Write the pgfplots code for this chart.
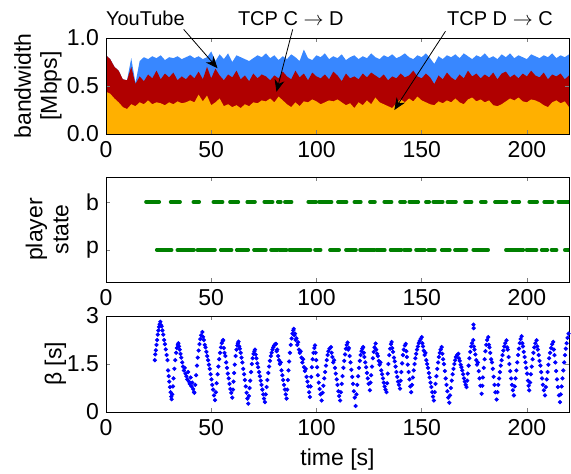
\documentclass[border=0pt]{standalone}
\usepackage{fontspec}
\setmainfont{Liberation Sans}
\usepackage{pgfplots}
\usepackage{pgfplotstable}
\pgfplotsset{compat=1.18}
\usetikzlibrary{arrows.meta}

\definecolor{ytblue}{RGB}{56,135,255}
\definecolor{cdred}{RGB}{176,0,0}
\definecolor{dcorange}{RGB}{255,176,0}
\definecolor{stgreen}{RGB}{0,128,0}

\pgfplotstableread{
t dc cd yt
0 0.44 0.82 0.82
2 0.42 0.78 0.78
4 0.37 0.70 0.70
6 0.33 0.66 0.66
8 0.28 0.57 0.57
10 0.26 0.56 0.56
12 0.31 0.70 0.79
14 0.29 0.52 0.53
16 0.33 0.60 0.76
18 0.31 0.55 0.80
20 0.35 0.62 0.78
22 0.31 0.58 0.81
24 0.33 0.66 0.79
26 0.32 0.57 0.82
28 0.30 0.63 0.77
30 0.33 0.59 0.80
32 0.31 0.64 0.79
34 0.34 0.56 0.81
36 0.32 0.60 0.78
38 0.33 0.57 0.80
40 0.35 0.62 0.82
42 0.33 0.58 0.79
44 0.41 0.65 0.81
46 0.34 0.57 0.78
48 0.40 0.70 0.80
50 0.30 0.58 0.86
52 0.33 0.68 0.76
54 0.37 0.61 0.83
56 0.29 0.56 0.78
58 0.31 0.62 0.84
60 0.28 0.59 0.75
62 0.30 0.66 0.82
64 0.27 0.57 0.80
66 0.31 0.61 0.78
68 0.29 0.55 0.76
70 0.33 0.63 0.79
72 0.32 0.58 0.82
74 0.35 0.62 0.80
76 0.34 0.60 0.84
78 0.37 0.56 0.79
80 0.33 0.61 0.82
82 0.39 0.58 0.77
84 0.35 0.65 0.81
86 0.31 0.60 0.78
88 0.28 0.57 0.83
90 0.33 0.66 0.80
92 0.29 0.59 0.76
94 0.34 0.63 0.88
96 0.33 0.56 0.79
98 0.36 0.64 0.77
100 0.34 0.60 0.82
102 0.31 0.58 0.80
104 0.33 0.62 0.84
106 0.35 0.57 0.78
108 0.34 0.65 0.81
110 0.36 0.61 0.79
112 0.33 0.55 0.83
114 0.30 0.63 0.77
116 0.32 0.58 0.80
118 0.27 0.60 0.82
120 0.33 0.57 0.78
122 0.30 0.63 0.81
124 0.35 0.59 0.79
126 0.31 0.64 0.84
128 0.38 0.61 0.80
130 0.33 0.58 0.78
132 0.31 0.62 0.82
134 0.29 0.56 0.80
136 0.27 0.60 0.83
138 0.32 0.58 0.79
140 0.36 0.63 0.81
142 0.33 0.59 0.84
144 0.37 0.61 0.80
146 0.34 0.66 0.78
148 0.39 0.60 0.82
150 0.35 0.58 0.80
152 0.33 0.63 0.84
154 0.31 0.59 0.79
156 0.30 0.52 0.73
158 0.34 0.61 0.81
160 0.32 0.57 0.78
162 0.35 0.64 0.82
164 0.33 0.59 0.80
166 0.37 0.56 0.83
168 0.33 0.62 0.79
170 0.31 0.58 0.84
172 0.36 0.66 0.81
174 0.38 0.60 0.78
176 0.34 0.63 0.82
178 0.36 0.58 0.80
180 0.33 0.62 0.84
182 0.35 0.59 0.79
184 0.30 0.64 0.81
186 0.29 0.57 0.78
188 0.31 0.63 0.83
190 0.34 0.65 0.80
192 0.37 0.59 0.84
194 0.35 0.62 0.79
196 0.38 0.58 0.82
198 0.34 0.63 0.80
200 0.33 0.60 0.78
202 0.36 0.66 0.83
204 0.35 0.61 0.81
206 0.33 0.59 0.79
208 0.30 0.64 0.82
210 0.28 0.57 0.80
212 0.33 0.62 0.84
214 0.35 0.60 0.79
216 0.32 0.63 0.82
218 0.34 0.57 0.80
220 0.28 0.61 0.83
}\bwdata

\pgfplotsset{
  every axis/.append style={
    scale only axis, width=231.5pt,
    xmin=0, xmax=220, xtick={0,50,100,150,200},
    tick align=inside, major tick length=2pt,
    /pgf/number format/assume math mode=true,
    tick label style={font=\fontsize{11.5}{13}\selectfont},
    label style={font=\fontsize{11.5}{13}\selectfont},
    ylabel style={anchor=south, inner sep=0pt, align=center},
  }
}

\begin{document}
\begin{tikzpicture}
\useasboundingbox (0,0) rectangle (285.5pt,-236.5pt);

% ---------- top panel ----------
\begin{axis}[
  at={(53pt,-19pt)}, anchor=north west, height=48pt,
  ymin=0, ymax=1, ytick={0,0.5,1},
  yticklabel style={/pgf/number format/.cd, fixed, fixed zerofill, precision=1},
  ylabel={bandwidth\\{[Mbps]}},
  ylabel style={at={(axis description cs:-0.095,0.5)}},
  axis on top, clip=false,
]
\addplot[fill=ytblue, draw=none] table[x=t, y=yt] {\bwdata} \closedcycle;
\addplot[fill=cdred, draw=none] table[x=t, y=cd] {\bwdata} \closedcycle;
\addplot[fill=dcorange, draw=none] table[x=t, y=dc] {\bwdata} \closedcycle;
\node[font=\fontsize{10}{12}\selectfont] at (axis cs:18.7,1.2) {YouTube};
\node[font=\fontsize{10}{12}\selectfont] at (axis cs:87.8,1.2) {TCP C $\rightarrow$ D};
\node[font=\fontsize{10}{12}\selectfont] at (axis cs:187.2,1.2) {TCP D $\rightarrow$ C};
\draw[-{Stealth[length=6pt,width=5pt]}, line width=0.4pt] (axis cs:36.9,1.09) -- (axis cs:53.0,0.685);
\draw[-{Stealth[length=6pt,width=5pt]}, line width=0.4pt] (axis cs:88.7,1.09) -- (axis cs:81.0,0.44);
\draw[-{Stealth[length=6pt,width=5pt]}, line width=0.4pt] (axis cs:161.3,1.07) -- (axis cs:137.0,0.25);
\end{axis}

% ---------- middle panel ----------
\begin{axis}[
  at={(53pt,-88.5pt)}, anchor=north west, height=52.5pt,
  ymin=-0.67, ymax=1.52, ytick={0,1}, yticklabels={p,b},
  ylabel={player\\state},
  ylabel style={at={(axis description cs:-0.080,0.5)}},
  unbounded coords=jump,
]
\addplot[stgreen, line width=1.8pt, line cap=round] coordinates {
(19.0,1) (25.3,1) (25.3,nan) (30.7,1) (35.2,1) (35.2,nan)
(41.5,1) (44.3,1) (44.3,nan) (51.0,1) (55.4,1) (55.4,nan)
(58.9,1) (62.9,1) (62.9,nan) (67.1,1) (70.8,1) (70.8,nan)
(75.2,1) (79.2,1) (79.2,nan) (81.6,1) (83.1,1) (83.1,nan)
(85.0,1) (88.2,1) (88.2,nan) (96.1,1) (99.8,1) (99.8,nan)
(101.2,1) (107.2,1) (107.2,nan) (110.2,1) (114.3,1) (114.3,nan)
(118.0,1) (121.1,1) (121.1,nan) (125.4,1) (127.8,1) (127.8,nan)
(132.2,1) (135.7,1) (135.7,nan) (139.7,1) (142.1,1) (142.1,nan)
(144.1,1) (148.4,1) (148.4,nan) (152.0,1) (153.6,1) (153.6,nan)
(155.5,1) (160.0,1) (160.0,nan) (162.2,1) (166.3,1) (166.3,nan)
(170.6,1) (173.7,1) (173.7,nan) (178.1,1) (180.5,1) (180.5,nan)
(184.8,1) (190.3,1) (190.3,nan) (193.2,1) (196.4,1) (196.4,nan)
(201.1,1) (204.9,1) (204.9,nan) (208.2,1) (212.2,1) (212.2,nan)
(214.9,1) (219.8,1)
};
\addplot[stgreen, line width=1.8pt, line cap=round] coordinates {
(24.1,0) (31.2,0) (31.2,nan) (33.9,0) (41.8,0) (41.8,nan)
(43.4,0) (51.8,0) (51.8,nan) (54.5,0) (59.7,0) (59.7,nan)
(62.1,0) (67.6,0) (67.6,nan) (70.3,0) (76.0,0) (76.0,nan)
(78.4,0) (81.5,0) (81.5,nan) (82.2,0) (85.8,0) (85.8,nan)
(87.1,0) (97.2,0) (97.2,nan) (99.3,0) (102.0,0) (102.0,nan)
(106.4,0) (110.8,0) (110.8,nan) (114.0,0) (118.8,0) (118.8,nan)
(120.7,0) (127.5,0) (127.5,nan) (128.3,0) (132.5,0) (132.5,nan)
(135.2,0) (140.4,0) (140.4,nan) (141.6,0) (144.7,0) (144.7,nan)
(147.3,0) (151.5,0) (151.5,nan) (153.1,0) (156.3,0) (156.3,nan)
(159.5,0) (163.4,0) (163.4,nan) (165.8,0) (171.3,0) (171.3,nan)
(174.5,0) (181.6,0) (181.6,nan) (190.0,0) (198.3,0) (198.3,nan)
(199.8,0) (204.6,0) (204.6,nan) (207.0,0) (209.7,0) (209.7,nan)
(211.7,0) (214.1,0) (214.1,nan) (218.0,0) (219.8,0)
};
\end{axis}

% ---------- bottom panel ----------
\begin{axis}[
  at={(53pt,-158pt)}, anchor=north west, height=48pt,
  ymin=0, ymax=3, ytick={0,1.5,3}, yticklabels={0,1.5,3},
  ylabel={β [s]}, xlabel={time [s]},
  ylabel style={at={(axis description cs:-0.085,0.5)}},
]
\addplot[only marks, mark=*, mark size=0.85pt, color=blue, mark options={draw=none, fill=blue}] coordinates {
(23.2,1.62) (23.4,1.80) (23.7,1.93) (24.0,2.10) (24.3,2.25) (24.6,2.42) (24.9,2.55) (25.2,2.66) (25.5,2.74) (25.8,2.82)
(26.1,2.72) (26.4,2.68) (26.8,2.55) (27.2,2.42) (27.6,2.25) (28.0,2.12) (28.4,1.96) (28.8,1.78) (29.2,1.62) (29.5,1.30) (29.8,1.12) (30.1,0.95) (30.4,0.78) (30.7,0.62) (31.0,0.48) (31.2,0.40)
(31.5,0.55) (31.8,0.80) (32.1,1.05) (32.5,1.35) (32.9,1.62) (33.3,1.85) (33.7,2.00) (34.1,2.10) (34.4,2.15)
(34.7,2.05) (35.0,1.95) (35.4,1.82) (35.8,1.70) (36.2,1.55) (36.6,1.42) (37.0,1.30) (37.4,1.38) (37.8,1.20) (38.2,1.12) (38.6,1.02) (39.0,1.25) (39.4,0.95) (39.8,0.88) (40.2,1.08) (40.6,0.80) (41.0,0.92) (41.4,0.72) (41.8,0.62) (42.0,0.60)
(42.4,0.85) (42.8,1.15) (43.2,1.45) (43.6,1.70) (44.0,1.92) (44.4,2.12) (44.8,2.28) (45.2,2.40) (45.8,2.50)
(46.1,2.35) (46.5,2.25) (46.9,2.10) (47.3,2.02) (47.7,1.88) (48.1,1.75) (48.5,1.62) (48.9,1.48) (49.3,1.35) (49.7,1.18) (50.1,1.02) (50.5,0.85) (50.9,0.70) (51.3,0.52) (51.8,0.37)
(52.2,0.62) (52.6,0.90) (53.0,1.18) (53.4,1.42) (53.8,1.65) (54.2,1.85) (54.6,2.02) (55.0,2.15) (55.4,2.22) (55.7,2.25)
(56.0,2.00) (56.3,1.85) (56.7,1.75) (57.1,1.55) (57.5,1.38) (57.9,1.20) (58.3,1.05) (58.7,0.88) (59.1,0.72) (59.5,0.60) (60.0,0.45)
(60.3,0.70) (60.6,0.95) (60.9,1.22) (61.2,1.48) (61.6,1.75) (62.0,1.95) (62.4,2.08) (62.7,2.15) (63.0,2.20)
(63.3,2.05) (63.6,1.98) (64.0,1.85) (64.4,1.70) (64.8,1.55) (65.2,1.35) (65.6,1.18) (66.0,1.00) (66.4,0.80) (66.8,0.60) (67.2,0.42) (67.6,0.26)
(67.9,0.50) (68.2,0.75) (68.5,0.98) (68.9,1.25) (69.3,1.50) (69.7,1.68) (70.1,1.82) (70.5,1.90) (70.8,1.95)
(71.1,1.80) (71.5,1.68) (71.9,1.52) (72.3,1.40) (72.7,1.25) (73.1,1.12) (73.5,0.98) (73.9,0.85) (74.3,0.70) (74.7,0.55) (75.1,0.42) (75.5,0.31)
(75.9,0.55) (76.3,0.78) (76.7,1.00) (77.1,1.22) (77.5,1.42) (77.9,1.60) (78.3,1.75) (78.7,1.85) (79.1,1.95) (79.5,2.02) (79.9,2.08) (80.4,2.12) (80.8,2.13)
(81.1,1.90) (81.4,1.95) (81.8,1.75) (82.2,1.62) (82.6,1.50) (83.0,1.55) (83.4,1.30) (83.8,1.15) (84.2,1.00) (84.6,0.85) (85.0,0.70) (85.4,0.55) (85.8,0.42)
(86.1,0.70) (86.4,1.00) (86.7,1.30) (87.0,1.58) (87.4,1.85) (87.8,2.10) (88.2,2.30) (88.6,2.45) (89.0,2.55) (89.2,2.60)
(89.5,2.40) (89.8,2.45) (90.1,2.25) (90.5,2.30) (90.9,2.10) (91.3,2.18) (91.7,1.95) (92.1,1.85) (92.5,1.90) (92.9,1.70) (93.3,1.55) (93.7,1.65) (94.1,1.40) (94.5,1.28) (94.9,1.35) (95.3,1.10) (95.7,0.95) (96.1,0.80) (96.5,0.62) (96.9,0.47)
(97.2,0.80) (97.5,1.10) (97.8,1.40) (98.2,1.65) (98.6,1.85) (99.0,2.00) (99.3,2.08)
(99.6,1.85) (99.9,1.62) (100.3,1.40) (100.7,1.15) (101.1,0.92) (101.5,0.72) (101.9,0.55) (102.5,0.36)
(102.9,0.60) (103.3,0.82) (103.7,1.05) (104.1,1.25) (104.5,1.45) (104.9,1.62) (105.3,1.78) (105.7,1.90) (106.2,1.98) (106.9,2.03)
(107.2,1.85) (107.6,1.72) (108.0,1.55) (108.4,1.62) (108.8,1.38) (109.2,1.20) (109.6,1.02) (110.0,0.85) (110.4,0.65) (110.8,0.50) (111.2,0.36)
(111.6,0.62) (112.0,0.88) (112.4,1.12) (112.8,1.38) (113.2,1.60) (113.6,1.80) (114.0,1.98) (114.4,2.10) (114.8,2.17)
(115.1,1.95) (115.4,2.00) (115.8,1.75) (116.2,1.55) (116.6,1.32) (117.0,1.10) (117.4,0.88) (117.8,0.65) (118.2,0.45) (118.6,0.19)
(119.0,0.55) (119.4,0.85) (119.8,1.12) (120.2,1.38) (120.6,1.60) (121.0,1.78) (121.4,1.90) (121.8,1.98) (122.2,2.03)
(122.5,1.85) (122.8,1.72) (123.2,1.55) (123.6,1.40) (124.0,1.22) (124.4,1.05) (124.8,0.88) (125.4,0.68)
(125.7,0.92) (126.0,1.15) (126.4,1.42) (126.8,1.68) (127.2,1.88) (127.6,2.02) (128.1,2.14)
(128.4,1.95) (128.8,1.82) (129.2,1.75) (129.6,1.60) (130.0,1.48) (130.4,1.55) (130.8,1.30) (131.2,1.18) (131.6,1.05) (132.0,0.92) (132.4,0.80) (132.8,0.70) (133.3,0.62)
(133.6,0.90) (133.9,1.20) (134.2,1.50) (134.6,1.78) (135.0,1.98) (135.4,2.12) (135.7,2.19)
(136.0,2.00) (136.4,1.88) (136.8,1.70) (137.2,1.58) (137.6,1.42) (138.0,1.25) (138.4,1.10) (138.8,0.95) (139.2,0.85) (139.7,0.73)
(140.0,0.98) (140.3,1.25) (140.7,1.52) (141.1,1.78) (141.5,1.95) (142.0,2.08) (142.4,2.13)
(142.7,1.90) (143.0,1.72) (143.4,1.48) (143.8,1.25) (144.2,1.02) (144.6,0.80) (145.0,0.62)
(145.4,0.85) (145.8,1.08) (146.2,1.30) (146.6,1.50) (147.0,1.68) (147.4,1.82) (147.8,1.95) (148.2,2.05) (148.6,2.15) (149.0,2.22) (149.5,2.28) (150.0,2.34)
(150.3,2.15) (150.6,2.05) (151.0,1.92) (151.4,1.78) (151.8,1.85) (152.2,1.62) (152.6,1.50) (153.0,1.38) (153.4,1.22) (153.8,1.08) (154.2,0.92) (154.6,0.78) (155.0,0.62) (155.4,0.48) (155.8,0.36)
(156.2,0.62) (156.6,0.88) (157.0,1.12) (157.4,1.35) (157.8,1.55) (158.2,1.72) (158.6,1.85) (159.0,1.95) (159.5,2.03)
(159.8,1.82) (160.2,1.65) (160.6,1.50) (161.0,1.28) (161.4,1.05) (161.8,0.85) (162.2,0.65) (162.6,0.45) (163.1,0.29)
(163.5,0.52) (163.9,0.75) (164.3,0.98) (164.7,1.18) (165.1,1.35) (165.5,1.50) (165.9,1.62) (166.3,1.72) (166.8,1.78) (167.4,1.82)
(167.7,1.68) (168.1,1.60) (168.5,1.48) (168.9,1.40) (169.3,1.30) (169.7,1.18) (170.1,1.05) (170.5,0.95) (170.9,0.85) (171.3,0.78)
(171.6,0.98) (171.9,1.20) (172.3,1.45) (172.7,1.68) (173.1,1.88) (173.5,2.05) (173.9,2.15) (174.5,2.25) (174.6,2.73) (174.7,2.62)
(174.8,2.05) (175.1,1.95) (175.5,1.80) (175.9,1.62) (176.3,1.48) (176.7,1.55) (177.1,1.28) (177.5,1.05) (177.9,0.82) (178.5,0.57)
(178.8,0.82) (179.1,1.08) (179.5,1.38) (179.9,1.65) (180.3,1.90) (180.7,2.10) (181.1,2.25) (181.6,2.34)
(181.9,2.10) (182.2,2.02) (182.6,1.85) (183.0,1.65) (183.4,1.55) (183.8,1.35) (184.2,1.10) (184.6,0.85) (185.0,0.62) (185.6,0.39)
(186.0,0.62) (186.4,0.85) (186.8,1.05) (187.2,1.25) (187.6,1.45) (188.0,1.62) (188.4,1.78) (188.8,1.92) (189.2,2.05) (189.7,2.15) (190.3,2.24)
(190.6,2.02) (190.9,1.95) (191.3,1.72) (191.7,1.50) (192.1,1.28) (192.5,1.05) (192.9,0.85) (193.3,0.68) (193.8,0.52)
(194.2,0.80) (194.6,1.05) (195.0,1.30) (195.4,1.55) (195.8,1.78) (196.2,1.98) (196.6,2.15) (197.0,2.28) (197.5,2.37)
(197.8,2.15) (198.1,2.05) (198.5,1.88) (198.9,1.72) (199.3,1.55) (199.7,1.38) (200.1,1.20) (200.5,0.98) (200.8,0.82) (201.1,0.68)
(201.5,0.92) (201.9,1.18) (202.3,1.42) (202.7,1.65) (203.1,1.85) (203.5,2.02) (204.0,2.15) (204.6,2.24)
(204.9,2.05) (205.2,1.95) (205.6,1.78) (206.0,1.60) (206.4,1.45) (206.8,1.25) (207.2,1.05) (207.6,0.85) (208.1,0.68) (208.6,0.52)
(209.0,0.78) (209.4,1.02) (209.8,1.25) (210.2,1.48) (210.6,1.68) (211.0,1.85) (211.5,2.00) (212.0,2.12) (212.5,2.19)
(212.8,1.95) (213.1,1.78) (213.5,1.55) (213.9,1.28) (214.3,1.02) (214.7,0.78) (215.2,0.52) (215.7,0.31)
(216.1,0.55) (216.5,0.80) (216.9,1.05) (217.3,1.30) (217.7,1.55) (218.1,1.78) (218.5,1.98) (218.9,2.15) (219.3,2.32) (219.8,2.45)
};
\end{axis}
\end{tikzpicture}
\end{document}
